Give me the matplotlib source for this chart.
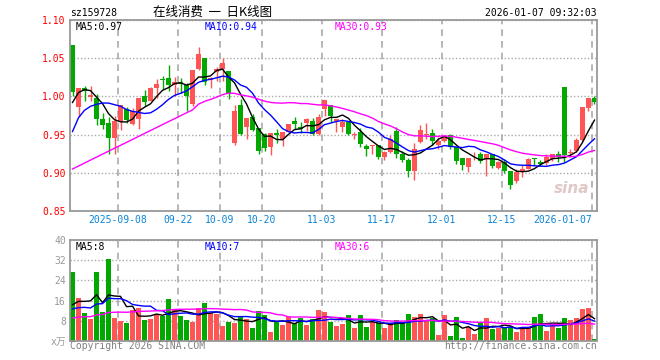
import numpy as np
import pandas as pd
import matplotlib
matplotlib.use('Agg')
import matplotlib.pyplot as plt

# daily K line, 2025-08-27 .. 2026-01-07 (88 trading days)
open_ = [1.0667, 0.9855, 1.011, 0.9987, 0.9974, 0.9702, 0.9649, 0.9452, 0.9675, 0.9833,
         0.9636, 0.9702, 1.0, 0.9943, 1.011, 1.0225, 1.0241, 1.0154, 1.0193, 1.0149,
         0.9899, 1.036, 1.0504, 1.0215, 1.0316, 1.036, 1.0333, 0.9386, 0.9886, 0.9605,
         0.9724, 0.9592, 0.9504, 0.9342, 0.9526, 0.9447, 0.9539, 0.968, 0.9605, 0.9658,
         0.968, 0.9504, 0.9833, 0.9886, 0.968, 0.9605, 0.9667, 0.9495, 0.9539, 0.9351,
         0.9355, 0.936, 0.9206, 0.9272, 0.9548, 0.9241, 0.9167, 0.9022, 0.9404, 0.950,
         0.9526, 0.936, 0.9417, 0.9491, 0.9342, 0.9189, 0.9075, 0.924, 0.9241, 0.9175,
         0.9241, 0.9066, 0.914, 0.9022, 0.889, 0.9022, 0.9053, 0.9189, 0.9145, 0.9132,
         0.9184, 0.9241, 1.0118, 0.9258, 0.9285, 0.943, 0.9846, 0.9974]
high = [1.0667, 1.0105, 1.014, 1.0132, 1.003, 0.978, 0.9724, 0.9737, 0.989, 0.9855,
        0.9842, 0.9974, 1.008, 1.012, 1.0228, 1.027, 1.0412, 1.025, 1.0237, 1.018,
        1.035, 1.0645, 1.0504, 1.026, 1.038, 1.0504, 1.0333, 0.9886, 0.9965, 0.9715,
        0.977, 0.9592, 0.9526, 0.9526, 0.9579, 0.9539, 0.9636, 0.9724, 0.9667, 0.9715,
        0.9711, 0.977, 0.9952, 0.9886, 0.971, 0.9702, 0.9667, 0.954, 0.9592, 0.9382,
        0.936, 0.936, 0.9285, 0.9491, 0.9605, 0.9285, 0.9197, 0.9386, 0.9623, 0.9649,
        0.9579, 0.947, 0.9491, 0.9504, 0.9342, 0.9189, 0.9189, 0.9272, 0.9272, 0.9241,
        0.9241, 0.9154, 0.9175, 0.9022, 0.9044, 0.9097, 0.9197, 0.9189, 0.9167, 0.9241,
        0.925, 0.9285, 1.0118, 0.9316, 0.9452, 0.9855, 0.9978, 1.0004]
low = [1.001, 0.9724, 0.994, 0.9934, 0.9623, 0.957, 0.925, 0.925, 0.9561, 0.9658,
       0.9623, 0.957, 0.988, 0.9943, 0.998, 1.0096, 1.0075, 1.0, 1.005, 0.9811,
       0.988, 1.0346, 1.0155, 1.0105, 1.0206, 1.0206, 0.9965, 0.936, 0.949, 0.9439,
       0.955, 0.9241, 0.9285, 0.9232, 0.9386, 0.9351, 0.9535, 0.957, 0.9526, 0.9548,
       0.9491, 0.949, 0.9741, 0.9667, 0.9535, 0.9535, 0.949, 0.9447, 0.9342, 0.922,
       0.924, 0.9184, 0.9167, 0.926, 0.9198, 0.914, 0.8947, 0.8904, 0.9386, 0.9447,
       0.936, 0.9307, 0.9404, 0.9307, 0.911, 0.9035, 0.9009, 0.9167, 0.9132, 0.8953,
       0.9066, 0.9044, 0.9, 0.8794, 0.8868, 0.8947, 0.9044, 0.9096, 0.9088, 0.9096,
       0.9154, 0.914, 0.914, 0.921, 0.9276, 0.9417, 0.9803, 0.9899]
close = [1.0053, 1.0105, 1.0075, 1.0022, 0.9702, 0.9623, 0.9452, 0.9675, 0.9886, 0.9689,
         0.9811, 0.9974, 0.993, 1.011, 1.0162, 1.022, 1.0154, 1.0193, 1.0162, 1.0009,
         1.0346, 1.0557, 1.019, 1.0241, 1.036, 1.0439, 1.004, 0.9807, 0.9504, 0.9715,
         0.9561, 0.9285, 0.932, 0.9526, 0.9491, 0.9539, 0.9636, 0.9636, 0.9579, 0.9702,
         0.9513, 0.9724, 0.9952, 0.9737, 0.9702, 0.9667, 0.9504, 0.950, 0.9373, 0.9316,
         0.936, 0.9206, 0.9272, 0.9447, 0.9241, 0.9167, 0.9022, 0.9307, 0.9561, 0.9504,
         0.9417, 0.9417, 0.9482, 0.9342, 0.9154, 0.9096, 0.9189, 0.9245, 0.9154, 0.9241,
         0.9088, 0.914, 0.9022, 0.8846, 0.9013, 0.9053, 0.9175, 0.9186, 0.911, 0.9211,
         0.9241, 0.9211, 0.9228, 0.9263, 0.943, 0.9855, 0.9978, 0.9921]
volume = [27.2, 17.1, 11.1, 8.7, 27.5, 11.5, 32.3, 9.1, 8.0, 7.1,
          12.4, 13.1, 8.4, 8.8, 10.7, 10.0, 16.7, 12.7, 10.0, 8.4,
          7.5, 13.1, 15.1, 11.1, 10.7, 6.1, 7.5, 7.1, 10.0, 8.7,
          5.1, 12.0, 10.4, 3.5, 7.7, 6.4, 9.5, 7.1, 9.1, 6.4,
          8.7, 12.4, 11.5, 7.7, 6.0, 6.7, 10.1, 5.1, 10.1, 5.5,
          7.5, 7.1, 5.1, 7.1, 8.3, 7.1, 10.7, 9.5, 10.7, 8.1,
          9.1, 2.3, 10.4, 2.0, 9.5, 1.1, 5.5, 2.7, 7.1, 9.1,
          4.7, 5.1, 5.5, 5.5, 3.7, 5.1, 5.3, 9.5, 10.7, 3.9,
          6.0, 5.1, 9.1, 8.4, 9.1, 12.7, 13.1, 0.8]

# earlier sessions (before the window), only needed to warm up the moving averages
prev_close = [0.895, 0.89, 0.885, 0.855, 0.845, 0.83, 0.85, 0.875, 0.855, 0.865,
              0.88, 0.875, 0.895, 0.90, 0.905, 0.90, 0.905, 0.90, 0.885, 0.92,
              0.83, 0.91, 0.95, 0.945, 0.945, 0.9455, 0.9885, 1.0087, 1.0123]
prev_vol = [6, 7, 8, 6, 7, 8, 7, 6, 9, 7, 8, 7, 6, 8, 7, 9, 8, 7, 8, 7,
            12, 10, 11, 12, 10, 10.6, 11.1, 7.7, 15.4]

tick_idx = [8, 18, 25, 32, 42, 52, 62, 72, 87]
tick_labels = ['2025-09-08', '09-22', '10-09', '10-20', '11-03', '11-17', '12-01', '12-15', '2026-01-07']

RED = '#ff5555'
GREEN = '#00a800'
GRID = '#aaaaaa'
MONO = 'DejaVu Sans Mono'

n = len(close)
x = np.arange(n)
o = np.array(open_)
c = np.array(close)
up = c >= o
colors = [RED if u else GREEN for u in up]

def ma(prev, vals, k):
    s = pd.Series(list(prev) + list(vals)).rolling(k).mean()
    return s.iloc[len(prev):].to_numpy()

ma5, ma10, ma30 = ma(prev_close, close, 5), ma(prev_close, close, 10), ma(prev_close, close, 30)
vma5, vma10, vma30 = ma(prev_vol, volume, 5), ma(prev_vol, volume, 10), ma(prev_vol, volume, 30)

fig = plt.figure(figsize=(6.6, 3.6), dpi=100)
ax = fig.add_axes([70/660, 1-211/360, 527/660, 191/360])
axv = fig.add_axes([70/660, 1-341/360, 527/660, 101/360])

xlim = (-0.42, n - 1 + 0.42)
grid_x = [i - 0.42 for i in tick_idx]

###price panel
ax.vlines(x, low, high, colors=colors, lw=1, zorder=2)
body = np.maximum(np.abs(c - o), 0.0012)
ax.bar(x, body, bottom=np.minimum(o, c), width=0.78, color=colors, zorder=2)
ax.plot(x, ma5, color='black', lw=1, zorder=3)
ax.plot(x, ma10, color='#0000ff', lw=1, zorder=3)
ax.plot(x, ma30, color='#ff00ff', lw=1, zorder=3)
ax.set_xlim(xlim)
ax.set_ylim(0.85, 1.10)
ax.set_yticks([0.85, 0.90, 0.95, 1.00, 1.05, 1.10])
ax.set_yticklabels(['%.2f' % v for v in [0.85, 0.90, 0.95, 1.00, 1.05, 1.10]],
                   color='red', fontsize=7, family=MONO)
ax.set_xticks(grid_x)
ax.set_xticklabels(tick_labels, color='#0a84d8', fontsize=7, family=MONO)
ax.get_xticklabels()[-1].set_horizontalalignment('right')
ax.tick_params(length=0, pad=3)
ax.grid(axis='y', color=GRID, linestyle=(0, (1, 1.5)), lw=1)
ax.grid(axis='x', color=GRID, linestyle=(0, (4, 3)), lw=1.2)
ax.set_axisbelow(True)

ax.text(0.01, 0.962, 'MA5:%.2f' % ma5[-1], transform=ax.transAxes, color='black',
        fontsize=7, family=MONO, va='center')
ax.text(0.256, 0.962, 'MA10:%.2f' % ma10[-1], transform=ax.transAxes, color='#0000ff',
        fontsize=7, family=MONO, va='center')
ax.text(0.502, 0.962, 'MA30:%.2f' % ma30[-1], transform=ax.transAxes, color='#ff00ff',
        fontsize=7, family=MONO, va='center')
ax.text(0.985, 0.12, 'sina', transform=ax.transAxes, color='#e0c8c8', fontsize=11,
        fontweight='bold', style='italic', ha='right', va='center', zorder=1)

###volume panel
axv.bar(x, volume, width=0.78, color=colors, zorder=2)
axv.plot(x, vma5, color='black', lw=1, zorder=3)
axv.plot(x, vma10, color='#0000ff', lw=1, zorder=3)
axv.plot(x, vma30, color='#ff00ff', lw=1, zorder=3)
axv.set_xlim(xlim)
axv.set_ylim(0, 40)
axv.set_yticks([0, 8, 16, 24, 32, 40])
axv.set_yticklabels(['x万', '8', '16', '24', '32', '40'], color='#999999', fontsize=7,
                    family=[MONO, 'Noto Sans CJK SC'])
axv.set_xticks(grid_x)
axv.set_xticklabels([])
axv.tick_params(length=0, pad=3)
axv.grid(axis='y', color=GRID, linestyle=(0, (1, 1.5)), lw=1)
axv.grid(axis='x', color=GRID, linestyle=(0, (4, 3)), lw=1.2)
axv.set_axisbelow(True)

axv.text(0.01, 0.93, 'MA5:%d' % int(vma5[-1]), transform=axv.transAxes, color='black',
         fontsize=7, family=MONO, va='center')
axv.text(0.256, 0.93, 'MA10:%d' % int(vma10[-1]), transform=axv.transAxes, color='#0000ff',
         fontsize=7, family=MONO, va='center')
axv.text(0.502, 0.93, 'MA30:%d' % int(vma30[-1]), transform=axv.transAxes, color='#ff00ff',
         fontsize=7, family=MONO, va='center')

for a in (ax, axv):
    for sp in a.spines.values():
        sp.set_color('#999999')
        sp.set_linewidth(1.3)

###header / footer texts
fig.text(70/660, 1-13/360, 'sz159728', fontsize=7, family=MONO, va='center')
fig.text(213/660, 1-12.5/360, '在线消费  一  日K线图', fontsize=9,
         family=['Noto Sans CJK SC', 'DejaVu Sans'], ha='center', va='center')
fig.text(597/660, 1-13/360, '2026-01-07 09:32:03', fontsize=7, family=MONO,
         ha='right', va='center')
fig.text(70/660, 1-346/360, 'Copyright 2026 SINA.COM', fontsize=7, family=MONO,
         color='#808080', va='center')
fig.text(597/660, 1-346/360, 'http://finance.sina.com.cn', fontsize=7, family=MONO,
         color='#808080', ha='right', va='center')

plt.savefig('out.png', dpi=100)
